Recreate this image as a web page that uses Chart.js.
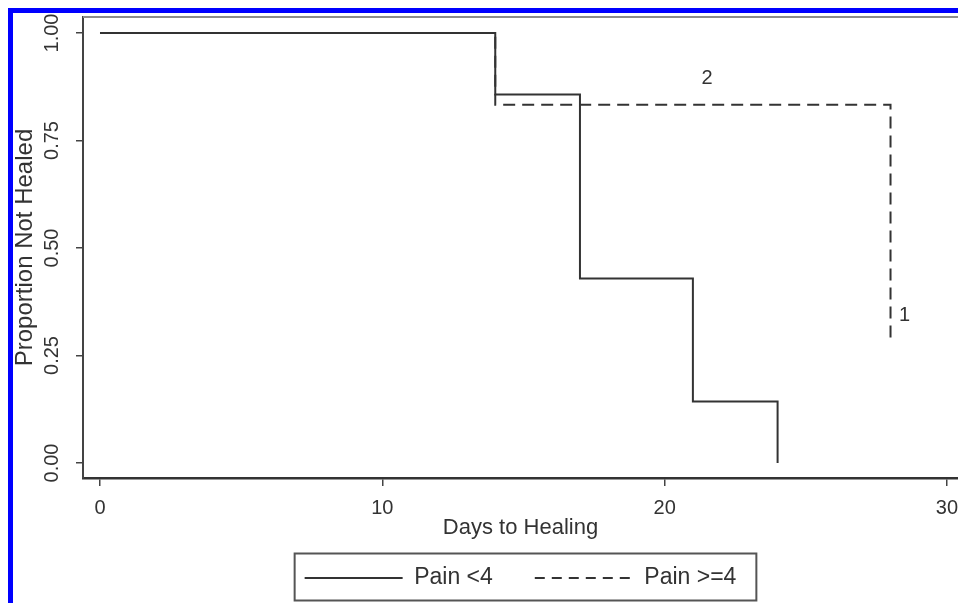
<!DOCTYPE html>
<html>
<head>
<meta charset="utf-8">
<script src="https://cdn.jsdelivr.net/npm/chart.js@4/dist/chart.umd.min.js"></script>
<style>
html,body{margin:0;padding:0;overflow:hidden;background:#fff;width:958px;height:603px}
canvas{display:block}
</style>
</head>
<body>
<canvas id="c" width="1045" height="603" style="width:1045px;height:603px"></canvas>
<script>
// ---- data ----
const seriesNames = ['Pain <4', 'Pain >=4'];
const painLowDays = [0, 14, 17, 21, 24];
const painLowProp = [1.0, 0.857, 0.429, 0.143, 0.0];
const painHighDays = [0, 14, 28];
const painHighProp = [1.0, 0.833, 0.28];
const xTickValues = [0, 10, 20, 30];
const yTickValues = [0, 0.25, 0.5, 0.75, 1.0];
const yTickLabels = ['0.00', '0.25', '0.50', '0.75', '1.00'];
const noteLabels = ['2', '1'];
const noteX = [21.5, 28.5];
const noteY = [0.895, 0.344];

const FONT = '"Liberation Sans", Arial, Helvetica, sans-serif';
const INK = '#333333';
Chart.defaults.font.family = FONT;
Chart.defaults.color = INK;

const toPts = (xs, ys) => xs.map((x, i) => ({x: x, y: ys[i]}));
const legendDash = [[], [10, 7]];

const decor = {
  id: 'decor',
  beforeDraw(chart) {
    const ctx = chart.ctx;
    ctx.save();
    ctx.fillStyle = '#ffffff';
    ctx.fillRect(0, 0, chart.width, chart.height);
    ctx.fillStyle = '#0000ff';
    ctx.fillRect(8, 8, 5, chart.height);
    ctx.fillRect(8, 8, chart.width, 5);
    ctx.restore();
  },
  afterDraw(chart) {
    const ctx = chart.ctx;
    const ca = chart.chartArea;
    const xs = chart.scales.x, ys = chart.scales.y;
    ctx.save();
    // top frame of plot region
    ctx.strokeStyle = '#8c8c8c';
    ctx.lineWidth = 2;
    ctx.beginPath();
    ctx.moveTo(ca.left, ca.top);
    ctx.lineTo(chart.width, ca.top);
    ctx.stroke();
    // rotated y tick labels
    ctx.fillStyle = INK;
    ctx.font = '20px ' + FONT;
    ctx.textAlign = 'center';
    ctx.textBaseline = 'middle';
    yTickValues.forEach((v, i) => {
      const py = ys.getPixelForValue(v);
      ctx.save();
      ctx.translate(52, py);
      ctx.rotate(-Math.PI / 2);
      ctx.fillText(yTickLabels[i], 0, 0);
      ctx.restore();
    });
    // curve annotations
    noteLabels.forEach((t, i) => {
      ctx.fillText(t, xs.getPixelForValue(noteX[i]), ys.getPixelForValue(noteY[i]));
    });
    // legend frame
    const lg = chart.legend;
    if (lg && lg.legendHitBoxes && lg.legendHitBoxes.length) {
      const hb = lg.legendHitBoxes;
      const first = hb[0], last = hb[hb.length - 1];
      const cy = first.top + first.height / 2;
      const x1 = first.left - 10, x2 = last.left + last.width + 20;
      ctx.strokeStyle = '#555555';
      ctx.lineWidth = 2;
      ctx.setLineDash([]);
      ctx.strokeRect(x1, cy - 24.5, x2 - x1, 47);
    }
    ctx.restore();
  }
};

new Chart(document.getElementById('c'), {
  type: 'line',
  data: {
    datasets: [
      {
        label: seriesNames[0],
        data: toPts(painLowDays, painLowProp),
        stepped: 'before',
        borderColor: INK,
        borderWidth: 2,
        pointRadius: 0,
        pointStyle: 'line',
        fill: false,
        order: 0
      },
      {
        label: seriesNames[1],
        data: toPts(painHighDays, painHighProp),
        stepped: 'before',
        borderColor: INK,
        borderWidth: 2,
        borderDash: [12, 7],
        pointRadius: 0,
        pointStyle: 'line',
        fill: false,
        order: 1
      }
    ]
  },
  options: {
    responsive: false,
    devicePixelRatio: 1,
    animation: false,
    events: [],
    layout: {padding: {left: 0, top: 17, right: 87, bottom: 3.5}},
    scales: {
      x: {
        type: 'linear',
        position: 'bottom',
        min: -0.602,
        max: 30.39,
        afterBuildTicks: s => { s.ticks = xTickValues.map(v => ({value: v})); },
        afterFit: s => { s.height = 46.5; },
        ticks: {
          font: {size: 20},
          color: INK,
          padding: 10,
          maxRotation: 0,
          callback: v => String(v)
        },
        grid: {display: true, drawOnChartArea: false, drawTicks: true, tickLength: 8, color: '#444', lineWidth: 1.5},
        border: {display: true, color: '#333', width: 2.5},
        title: {display: true, text: 'Days to Healing', font: {size: 22}, color: INK, padding: {top: 0, bottom: -16.7}}
      },
      y: {
        type: 'linear',
        position: 'left',
        min: -0.0349,
        max: 1.0372,
        afterBuildTicks: s => { s.ticks = yTickValues.map(v => ({value: v})); },
        afterFit: s => { s.width = 83; },
        ticks: {display: false},
        grid: {display: true, drawOnChartArea: false, drawTicks: true, tickLength: 7, color: '#444', lineWidth: 1.5},
        border: {display: true, color: '#444', width: 2},
        title: {display: true, text: 'Proportion Not Healed', font: {size: 24}, color: INK, padding: {top: 11, bottom: 0}}
      }
    },
    plugins: {
      tooltip: {enabled: false},
      legend: {
        display: true,
        position: 'bottom',
        align: 'center',
        fullSize: false,
        labels: {
          font: {size: 23},
          color: INK,
          padding: 42,
          usePointStyle: true,
          pointStyleWidth: 98,
          generateLabels: chart => Chart.defaults.plugins.legend.labels.generateLabels(chart).map((l, i) => Object.assign(l, {
            pointStyle: 'line',
            lineDash: legendDash[i],
            lineWidth: 2,
            strokeStyle: INK
          }))
        }
      }
    }
  },
  plugins: [decor]
});
</script>
</body>
</html>
